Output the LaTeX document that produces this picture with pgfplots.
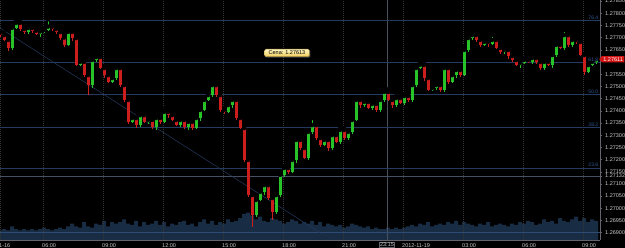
\documentclass[border=0pt]{standalone}
\usepackage{fontspec}
\setmainfont{Liberation Sans}
\usepackage{pgfplots}
\usepackage{pgfplotstable}
\pgfplotsset{compat=1.18}
\usetikzlibrary{shapes.symbols,shadows}

\definecolor{bull}{RGB}{40,195,40}
\definecolor{bear}{RGB}{205,30,30}
\definecolor{vol}{RGB}{24,44,68}
\definecolor{fib}{RGB}{36,58,95}
\definecolor{fibzero}{RGB}{45,75,115}
\definecolor{fibtext}{RGB}{50,90,150}
\definecolor{labgray}{RGB}{200,200,200}
\definecolor{axisgray}{RGB}{100,100,110}
\definecolor{gridgray}{RGB}{55,55,55}
\definecolor{crossgray}{RGB}{75,80,95}
\definecolor{hline}{RGB}{70,80,100}
\definecolor{pricered}{RGB}{210,20,20}
\definecolor{tipA}{RGB}{255,245,190}
\definecolor{tipB}{RGB}{240,205,90}

\newcommand{\tf}{\fontsize{5.5}{6}\selectfont}

\pgfplotstableread{
x o h l c v
0 1.27720 1.27726 1.27702 1.27710 70
4 1.27710 1.27720 1.27685 1.27690 80
8 1.27690 1.27694 1.27646 1.27657 70
12 1.27657 1.27748 1.27651 1.27740 100
16 1.27740 1.27772 1.27736 1.27760 80
20 1.27760 1.27765 1.27726 1.27735 70
24 1.27735 1.27744 1.27716 1.27723 80
28 1.27723 1.27746 1.27713 1.27739 70
32 1.27739 1.27745 1.27720 1.27728 80
36 1.27728 1.27738 1.27710 1.27715 70
40 1.27715 1.27729 1.27704 1.27725 80
44 1.27725 1.27739 1.27719 1.27731 90
48 1.27731 1.27775 1.27727 1.27745 80
52 1.27745 1.27750 1.27726 1.27735 70
56 1.27735 1.27744 1.27715 1.27722 80
60 1.27722 1.27729 1.27690 1.27700 90
64 1.27700 1.27706 1.27662 1.27670 80
68 1.27670 1.27733 1.27665 1.27723 100
72 1.27723 1.27727 1.27687 1.27698 120
76 1.27698 1.27706 1.27582 1.27588 100
80 1.27588 1.27612 1.27584 1.27600 90
84 1.27600 1.27605 1.27537 1.27546 130
88 1.27546 1.27555 1.27464 1.27505 100
92 1.27505 1.27615 1.27495 1.27608 90
96 1.27608 1.27626 1.27600 1.27620 120
100 1.27620 1.27630 1.27570 1.27575 110
104 1.27575 1.27579 1.27535 1.27546 140
108 1.27546 1.27554 1.27512 1.27518 100
112 1.27518 1.27546 1.27514 1.27534 130
116 1.27534 1.27580 1.27525 1.27575 120
120 1.27575 1.27584 1.27498 1.27505 130
124 1.27505 1.27512 1.27434 1.27444 150
128 1.27444 1.27450 1.27346 1.27354 120
132 1.27354 1.27380 1.27349 1.27370 110
136 1.27370 1.27374 1.27330 1.27341 140
140 1.27341 1.27390 1.27335 1.27382 100
144 1.27382 1.27394 1.27350 1.27354 130
148 1.27354 1.27367 1.27345 1.27362 110
152 1.27362 1.27371 1.27326 1.27333 120
156 1.27333 1.27377 1.27323 1.27370 140
160 1.27370 1.27376 1.27346 1.27354 110
164 1.27354 1.27405 1.27349 1.27395 130
168 1.27395 1.27399 1.27371 1.27382 100
172 1.27382 1.27390 1.27356 1.27362 120
176 1.27362 1.27374 1.27337 1.27341 110
180 1.27341 1.27367 1.27332 1.27362 130
184 1.27362 1.27371 1.27326 1.27333 140
188 1.27333 1.27361 1.27323 1.27354 110
192 1.27354 1.27360 1.27321 1.27329 120
196 1.27329 1.27380 1.27324 1.27370 100
200 1.27370 1.27407 1.27359 1.27403 130
204 1.27403 1.27452 1.27397 1.27444 150
208 1.27444 1.27476 1.27440 1.27464 120
212 1.27464 1.27510 1.27455 1.27505 140
216 1.27505 1.27514 1.27457 1.27464 110
220 1.27464 1.27471 1.27393 1.27403 130
224 1.27403 1.27409 1.27387 1.27395 120
228 1.27395 1.27433 1.27390 1.27423 150
232 1.27423 1.27448 1.27412 1.27444 130
236 1.27444 1.27452 1.27364 1.27370 140
240 1.27370 1.27382 1.27325 1.27329 160
244 1.27329 1.27334 1.27189 1.27198 190
248 1.27198 1.27207 1.27047 1.27054 200
252 1.27054 1.27061 1.26923 1.26972 180
256 1.26972 1.27040 1.26964 1.27034 150
260 1.27034 1.27077 1.27029 1.27067 170
264 1.27067 1.27099 1.27056 1.27095 140
268 1.27095 1.27103 1.27036 1.27042 130
272 1.27042 1.27054 1.26952 1.26985 160
276 1.26985 1.27059 1.26976 1.27054 150
280 1.27054 1.27146 1.27047 1.27137 140
284 1.27137 1.27172 1.27127 1.27165 120
288 1.27165 1.27171 1.27141 1.27149 130
292 1.27149 1.27208 1.27144 1.27198 150
296 1.27198 1.27284 1.27187 1.27280 140
300 1.27280 1.27288 1.27241 1.27247 120
304 1.27247 1.27259 1.27202 1.27206 130
308 1.27206 1.27318 1.27197 1.27313 120
312 1.27313 1.27370 1.27306 1.27341 140
316 1.27341 1.27348 1.27278 1.27288 110
320 1.27288 1.27294 1.27251 1.27259 130
324 1.27259 1.27290 1.27254 1.27280 100
328 1.27280 1.27284 1.27236 1.27247 120
332 1.27247 1.27308 1.27241 1.27300 110
336 1.27300 1.27312 1.27268 1.27272 100
340 1.27272 1.27326 1.27263 1.27321 110
344 1.27321 1.27330 1.27281 1.27288 90
348 1.27288 1.27320 1.27278 1.27313 100
352 1.27313 1.27368 1.27305 1.27362 120
356 1.27362 1.27454 1.27357 1.27444 110
360 1.27444 1.27448 1.27412 1.27423 100
364 1.27423 1.27444 1.27417 1.27436 90
368 1.27436 1.27448 1.27407 1.27411 100
372 1.27411 1.27433 1.27402 1.27428 80
376 1.27428 1.27437 1.27396 1.27403 90
380 1.27403 1.27451 1.27393 1.27444 80
384 1.27444 1.27483 1.27436 1.27477 80
388 1.27477 1.27487 1.27439 1.27444 90
392 1.27444 1.27448 1.27412 1.27423 80
396 1.27423 1.27460 1.27417 1.27452 90
400 1.27452 1.27464 1.27428 1.27432 80
404 1.27432 1.27465 1.27423 1.27460 90
408 1.27460 1.27469 1.27437 1.27444 100
412 1.27444 1.27512 1.27434 1.27505 110
416 1.27505 1.27581 1.27497 1.27575 100
420 1.27575 1.27598 1.27570 1.27588 120
424 1.27588 1.27592 1.27523 1.27534 110
428 1.27534 1.27542 1.27479 1.27485 130
432 1.27485 1.27505 1.27481 1.27493 100
436 1.27493 1.27510 1.27484 1.27505 110
440 1.27505 1.27514 1.27478 1.27485 120
444 1.27485 1.27582 1.27475 1.27575 110
448 1.27575 1.27581 1.27510 1.27518 130
452 1.27518 1.27556 1.27513 1.27546 120
456 1.27546 1.27571 1.27535 1.27567 140
460 1.27567 1.27575 1.27540 1.27546 110
464 1.27546 1.27661 1.27542 1.27649 130
468 1.27649 1.27703 1.27640 1.27698 120
472 1.27698 1.27723 1.27691 1.27710 110
476 1.27710 1.27717 1.27680 1.27690 100
480 1.27690 1.27696 1.27662 1.27670 120
484 1.27670 1.27692 1.27665 1.27682 110
488 1.27682 1.27686 1.27663 1.27674 130
492 1.27674 1.27712 1.27668 1.27690 100
496 1.27690 1.27702 1.27653 1.27657 110
500 1.27657 1.27662 1.27632 1.27641 120
504 1.27641 1.27658 1.27634 1.27649 110
508 1.27649 1.27656 1.27614 1.27624 100
512 1.27624 1.27630 1.27600 1.27608 120
516 1.27608 1.27618 1.27582 1.27587 110
520 1.27587 1.27600 1.27576 1.27596 130
524 1.27596 1.27616 1.27590 1.27608 120
528 1.27608 1.27620 1.27596 1.27600 140
532 1.27600 1.27621 1.27591 1.27616 130
536 1.27616 1.27625 1.27593 1.27600 110
540 1.27600 1.27607 1.27565 1.27575 120
544 1.27575 1.27606 1.27567 1.27600 150
548 1.27600 1.27610 1.27582 1.27587 130
552 1.27587 1.27632 1.27576 1.27628 140
556 1.27628 1.27678 1.27622 1.27670 120
560 1.27670 1.27682 1.27653 1.27657 160
564 1.27657 1.27731 1.27648 1.27710 140
568 1.27710 1.27719 1.27663 1.27670 130
572 1.27670 1.27697 1.27660 1.27690 150
576 1.27690 1.27696 1.27674 1.27682 170
580 1.27682 1.27692 1.27623 1.27628 140
584 1.27628 1.27632 1.27548 1.27559 160
588 1.27559 1.27595 1.27553 1.27587 130
592 1.27587 1.27612 1.27583 1.27600 150
596 1.27600 1.27616 1.27591 1.27611 140
}\ohlc

\begin{document}
\begin{tikzpicture}[x=1pt,y=1pt]
\useasboundingbox (0,0) rectangle (625,248);
\fill[black] (0,0) rectangle (625,248);

% volume
\begin{axis}[at={(0pt,8pt)}, anchor=south west, scale only axis,
  width=600pt, height=240pt, xmin=0, xmax=600, ymin=0, ymax=1750, hide axis]
\addplot[ybar, bar width=4pt, fill=vol, draw=none] table[x=x, y=v] {\ohlc};
\end{axis}

% price
\begin{axis}[at={(0pt,8pt)}, anchor=south west, scale only axis,
  width=600pt, height=240pt,
  xmin=0, xmax=600, ymin=1.26870, ymax=1.27854,
  clip mode=individual,
  axis x line*=bottom, axis y line*=right,
  axis line style={draw=axisgray, line width=0.5pt, -},
  xtick={0,43,103,163,223,283,343,403,463,523,583},
  xticklabels={1-16,06:00,09:00,12:00,15:00,18:00,21:00,2012-11-19,03:00,06:00,09:00},
  xticklabel style={anchor=north west, inner sep=0pt, xshift=-1pt, yshift=-1.5pt, text=labgray, font=\tf},
  ytick={1.26900,1.26950,1.27000,1.27050,1.27100,1.27150,1.27200,1.27250,1.27300,1.27350,1.27400,1.27450,1.27500,1.27550,1.27650,1.27700,1.27750,1.27800,1.27850},
  yticklabels={1.26900,1.26950,1.27000,1.27050,1.27100,1.27150,1.27200,1.27250,1.27300,1.27350,1.27400,1.27450,1.27500,1.27550,1.27650,1.27700,1.27750,1.27800,1.27850},
  yticklabel style={anchor=west, inner sep=0pt, xshift=3pt, text=labgray, font=\tf},
  xmajorgrids=true,
  major grid style={gridgray, dash pattern=on 1pt off 1pt, line width=0.4pt},
  x tick style={draw=none},
  y tick style={draw=axisgray, line width=0.4pt},
  major tick length=2pt, tick align=outside,
  extra x ticks={387}, extra x tick labels={23:15},
  extra x tick style={grid=major, major grid style={solid, crossgray, line width=0.5pt},
     xticklabel style={anchor=north, draw=axisgray, fill=black, inner sep=0.5pt, xshift=1pt, yshift=1.3pt}},
  extra y ticks={1.27132}, extra y tick labels={1.27132},
  extra y tick style={yticklabel style={fill=black, inner sep=0.4pt, xshift=-0.4pt}},
]
% fibo levels and lines
\addplot[fibzero, line width=0.6pt] coordinates {(0,1.26900) (600,1.26900)};
\addplot[fib, line width=0.6pt] coordinates {(0,1.27166) (600,1.27166)};
\addplot[fib, line width=0.6pt] coordinates {(0,1.27332) (600,1.27332)};
\addplot[fib, line width=0.6pt] coordinates {(0,1.27466) (600,1.27466)};
\addplot[fib, line width=0.6pt] coordinates {(0,1.27599) (600,1.27599)};
\addplot[fib, line width=0.6pt] coordinates {(0,1.27769) (600,1.27769)};
\addplot[hline, line width=0.5pt] coordinates {(0,1.27132) (600,1.27132)};
\addplot[fib, line width=0.5pt] coordinates {(0,1.27739) (322,1.26895)};

% wicks
\addplot[only marks, mark=none, restrict expr to domain={\thisrow{c}-\thisrow{o}}{0:1},
  error bars/.cd, y dir=minus, y explicit, error mark=none,
  error bar style={draw=bull, line width=0.7pt}]
  table[x=x, y=h, y error minus expr={\thisrow{h}-\thisrow{l}}] {\ohlc};
\addplot[only marks, mark=none, restrict expr to domain={\thisrow{c}-\thisrow{o}}{-1:0},
  error bars/.cd, y dir=minus, y explicit, error mark=none,
  error bar style={draw=bear, line width=0.7pt}]
  table[x=x, y=h, y error minus expr={\thisrow{h}-\thisrow{l}}] {\ohlc};
% bodies
\addplot[only marks, mark=none, restrict expr to domain={\thisrow{c}-\thisrow{o}}{0:1},
  error bars/.cd, y dir=minus, y explicit, error mark=none,
  error bar style={draw=bull, line width=3pt}]
  table[x=x, y=c, y error minus expr={\thisrow{c}-\thisrow{o}}] {\ohlc};
\addplot[only marks, mark=none, restrict expr to domain={\thisrow{c}-\thisrow{o}}{-1:0},
  error bars/.cd, y dir=minus, y explicit, error mark=none,
  error bar style={draw=bear, line width=3pt}]
  table[x=x, y=o, y error minus expr={\thisrow{o}-\thisrow{c}}] {\ohlc};

% level labels
\node[anchor=south east, font=\fontsize{5}{5}\selectfont, text=fibtext, inner sep=0.6pt] at (axis cs:599,1.27769) {76.4};
\node[anchor=south east, font=\fontsize{5}{5}\selectfont, text=fibtext, inner sep=0.6pt] at (axis cs:599,1.27599) {61.8};
\node[anchor=south east, font=\fontsize{5}{5}\selectfont, text=fibtext, inner sep=0.6pt] at (axis cs:599,1.27466) {50.0};
\node[anchor=south east, font=\fontsize{5}{5}\selectfont, text=fibtext, inner sep=0.6pt] at (axis cs:599,1.27332) {38.2};
\node[anchor=south east, font=\fontsize{5}{5}\selectfont, text=fibtext, inner sep=0.6pt] at (axis cs:599,1.27166) {23.6};

% tooltip
\node[font=\tf, text=black, top color=tipA, bottom color=tipB, draw=tipB!70!black,
  rounded corners=1.2pt, inner xsep=4pt, inner ysep=1.8pt,
  drop shadow={shadow xshift=1pt, shadow yshift=-1pt, opacity=0.5, fill=gray}]
  at (axis cs:287,1.27637) {Cena: 1.27613};

% current price
\node[signal, signal to=west, signal pointer angle=100, fill=pricered, text=white,
  font=\tf, inner xsep=1.5pt, inner ysep=1.2pt, anchor=west]
  at (axis cs:599,1.27611) {1.27611};
\end{axis}
\end{tikzpicture}
\end{document}
